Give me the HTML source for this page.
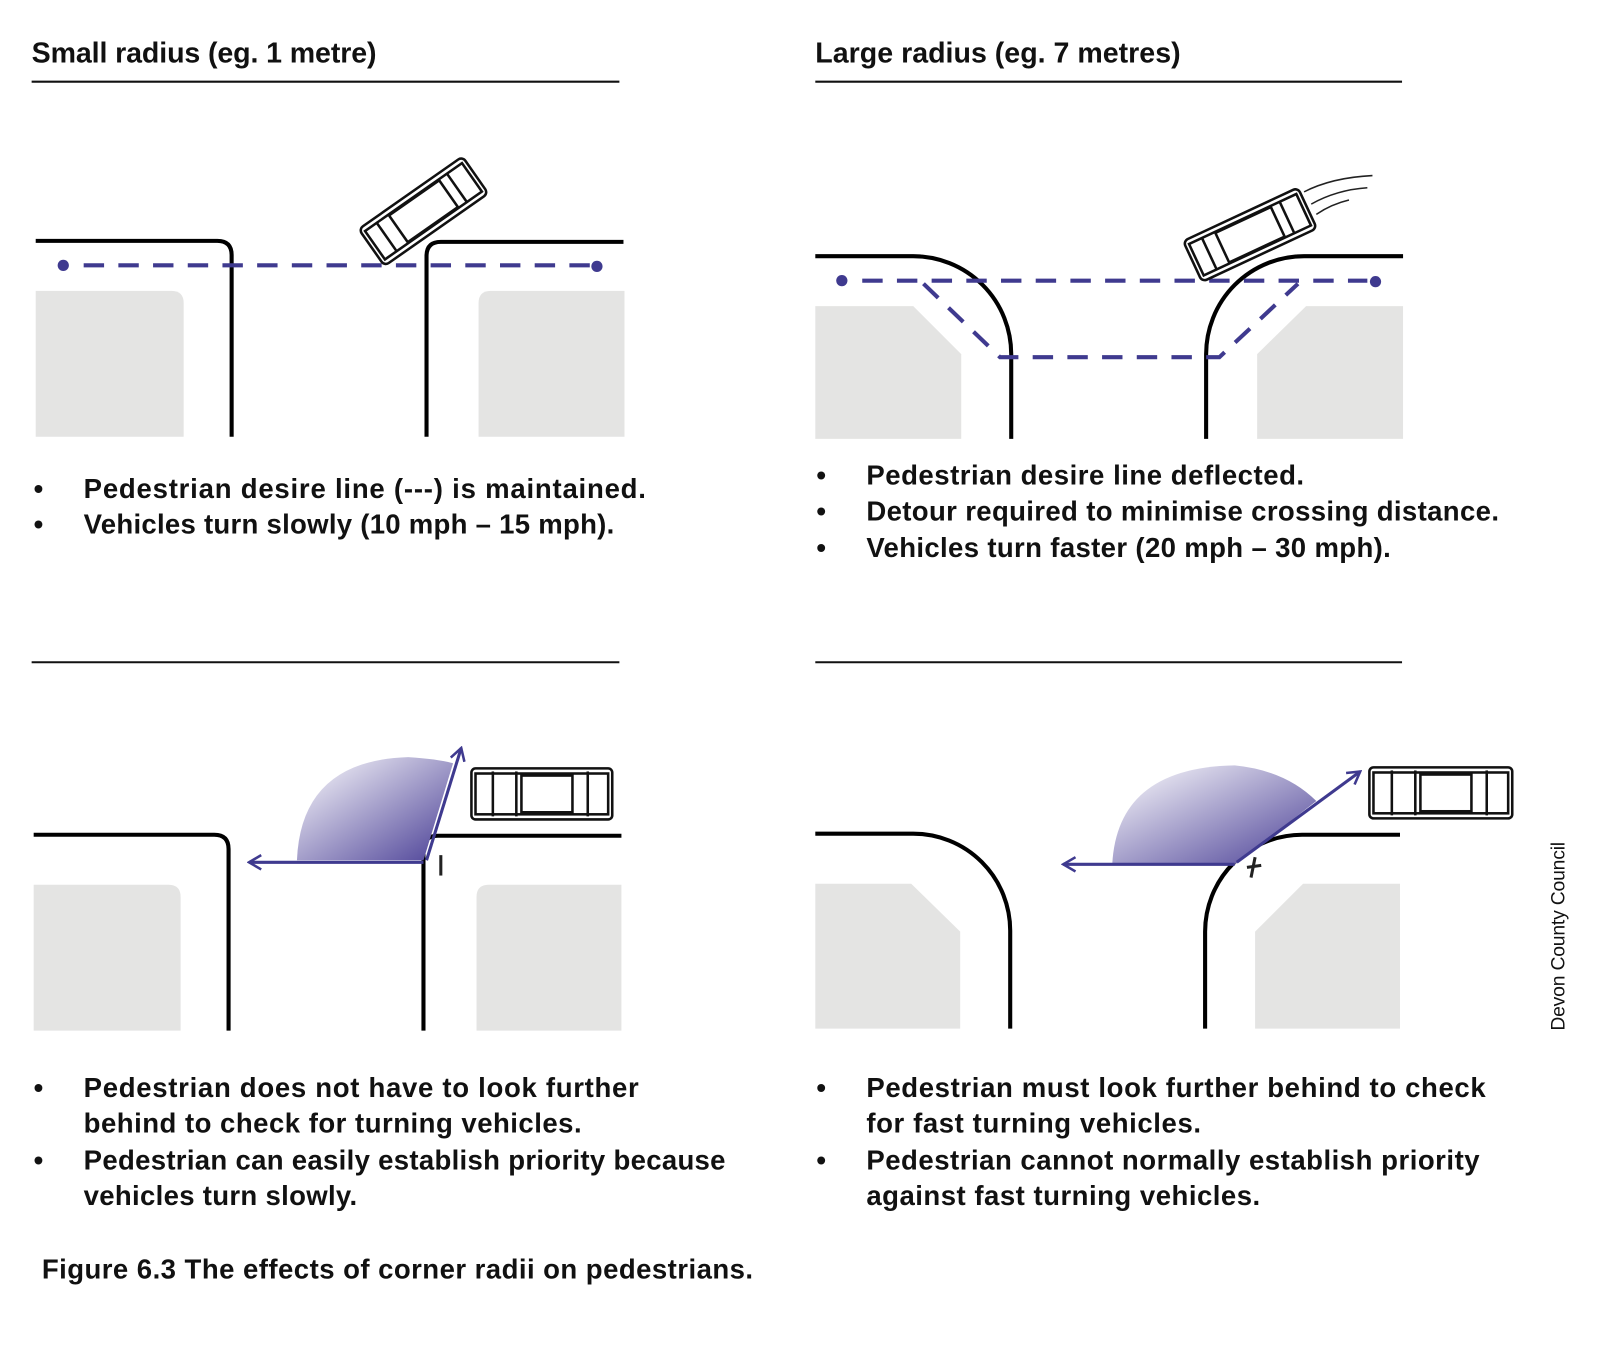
<!DOCTYPE html>
<html><head><meta charset="utf-8"><style>
html,body{margin:0;padding:0;background:#fff}
svg{display:block}
text{font-family:"Liberation Sans",sans-serif;fill:#111}
.t{font-size:28px;font-weight:bold}
.b{font-size:27px;font-weight:bold}
</style></head><body>
<svg width="1600" height="1346" viewBox="0 0 1568 1319" xmlns="http://www.w3.org/2000/svg">
<defs>
<linearGradient id="g1" x1="0" y1="0" x2="1" y2="1">
<stop offset="0" stop-color="#fff"/><stop offset="1" stop-color="#4a3f96"/></linearGradient>
<marker id="ar2" markerWidth="16" markerHeight="16" refX="14" refY="8" orient="auto" markerUnits="userSpaceOnUse">
<path d="M2,1 L14,8 L2,15" fill="none" stroke="#3f3a8f" stroke-width="2.5"/></marker>
</defs>
<g fill="none" stroke="#111" stroke-width="2">
<line x1="31" y1="80" x2="607" y2="80"/><line x1="799" y1="80" x2="1374" y2="80"/>
<line x1="31" y1="649" x2="607" y2="649"/><line x1="799" y1="649" x2="1374" y2="649"/>
</g>
<text class="t" x="31" y="61" textLength="338">Small radius (eg. 1 metre)</text>
<text class="t" x="799" y="61" textLength="358">Large radius (eg. 7 metres)</text>

<g fill="#e4e4e3">
<path d="M35,285 H168 Q180,285 180,297 V428 H35Z"/>
<path d="M612,285 H481 Q469,285 469,297 V428 H612Z"/>
<path d="M799,300 H895 L942,347 V430 H799Z"/>
<path d="M1375,300 H1280 L1232,347 V430 H1375Z"/>
<path d="M33,867 H165 Q177,867 177,879 V1010 H33Z"/>
<path d="M609,867 H479 Q467,867 467,879 V1010 H609Z"/>
<path d="M799,866 H893 L941,913 V1008 H799Z"/>
<path d="M1372,866 H1277 L1230,913 V1008 H1372Z"/>
</g>
<g fill="none" stroke="#000" stroke-width="4">
<path d="M35,236 H213 Q227,236 227,250 V428"/>
<path d="M418,428 V251 Q418,237 432,237 H611"/>
<path d="M799,251 H895 A96,96 0 0 1 991,347 V430"/>
<path d="M1182,430 V347 A96,96 0 0 1 1278,251 H1375"/>
<path d="M33,818 H210 Q224,818 224,832 V1010"/>
<path d="M415,1010 V833 Q415,819 429,819 H609"/>
<path d="M799,817 H895 A95,95 0 0 1 990,912 V1008"/>
<path d="M1181,1008 V913 A95,95 0 0 1 1276,818 H1372"/>
</g>
<g stroke="#3f3a8f" stroke-width="4" fill="none" stroke-dasharray="20,14">
<line x1="82" y1="260" x2="580" y2="260"/>
<line x1="845" y1="275" x2="1340" y2="275"/>
<path d="M905,278 L980,350 H1195 L1272,278"/>
</g>
<g fill="#3f3a8f"><circle cx="62" cy="260" r="5.5"/><circle cx="585" cy="261" r="5.5"/><circle cx="825" cy="275" r="5.5"/><circle cx="1348" cy="276" r="5.5"/></g>

<path d="M415,843 H291 Q295,745 400,742 Q430,744 444,748 Z" fill="url(#g1)"/>
<path d="M1210,847 H1090 Q1095,752 1210,750 Q1260,755 1290,785 Z" fill="url(#g1)"/>
<g stroke="#3f3a8f" stroke-width="3" fill="none">
<line x1="415" y1="845" x2="244" y2="845" marker-end="url(#ar2)"/>
<line x1="418" y1="843" x2="452" y2="733" marker-end="url(#ar2)"/>
<line x1="1210" y1="847" x2="1042" y2="847" marker-end="url(#ar2)"/>
<line x1="1212" y1="845" x2="1333" y2="756" marker-end="url(#ar2)"/>
</g>
<g stroke="#222" stroke-width="3"><line x1="432" y1="838" x2="432" y2="858"/><line x1="1230" y1="840" x2="1226" y2="860"/><line x1="1222" y1="850" x2="1236" y2="848"/></g>

<g transform="translate(415,207) rotate(-35)" fill="#fff" stroke="#111" stroke-width="2.5">
<rect x="-62" y="-22" width="124" height="44" rx="5"/><rect x="-58" y="-17" width="116" height="34"/>
<rect x="-30" y="-16" width="60" height="32"/><line x1="-44" y1="-18" x2="-44" y2="18"/><line x1="40" y1="-18" x2="40" y2="18"/></g>
<g transform="translate(1225,230) rotate(-25)" fill="#fff" stroke="#111" stroke-width="2.5">
<rect x="-62" y="-22" width="124" height="44" rx="5"/><rect x="-58" y="-17" width="116" height="34"/>
<rect x="-30" y="-16" width="60" height="32"/><line x1="-44" y1="-18" x2="-44" y2="18"/><line x1="40" y1="-18" x2="40" y2="18"/></g>
<g stroke="#222" stroke-width="1.5" fill="none"><path d="M1278,188 Q1305,174 1345,172"/><path d="M1285,200 Q1310,186 1340,184"/><path d="M1290,210 Q1305,200 1322,196"/></g>
<g transform="translate(531,778)" fill="#fff" stroke="#111" stroke-width="2.5">
<rect x="-69" y="-25" width="138" height="50" rx="4"/><rect x="-65" y="-20" width="130" height="40"/>
<rect x="-20" y="-18" width="50" height="36"/><line x1="-48" y1="-22" x2="-48" y2="22"/><line x1="-25" y1="-22" x2="-25" y2="22"/><line x1="45" y1="-22" x2="45" y2="22"/></g>
<g transform="translate(1412,777)" fill="#fff" stroke="#111" stroke-width="2.5">
<rect x="-70" y="-25" width="140" height="50" rx="4"/><rect x="-66" y="-20" width="132" height="40"/>
<rect x="-20" y="-18" width="50" height="36"/><line x1="-48" y1="-22" x2="-48" y2="22"/><line x1="-25" y1="-22" x2="-25" y2="22"/><line x1="45" y1="-22" x2="45" y2="22"/></g>

<g class="b">
<text class="b" x="33" y="488">•</text><text class="b" x="82" y="488" textLength="551">Pedestrian desire line (---) is maintained.</text>
<text class="b" x="33" y="523">•</text><text class="b" x="82" y="523" textLength="520">Vehicles turn slowly (10 mph – 15 mph).</text>
<text class="b" x="800" y="475">•</text><text class="b" x="849" y="475" textLength="429">Pedestrian desire line deflected.</text>
<text class="b" x="800" y="510">•</text><text class="b" x="849" y="510" textLength="620">Detour required to minimise crossing distance.</text>
<text class="b" x="800" y="546">•</text><text class="b" x="849" y="546" textLength="514">Vehicles turn faster (20 mph – 30 mph).</text>
<text class="b" x="33" y="1075">•</text><text class="b" x="82" y="1075" textLength="544">Pedestrian does not have to look further</text>
<text class="b" x="82" y="1110" textLength="488">behind to check for turning vehicles.</text>
<text class="b" x="33" y="1146">•</text><text class="b" x="82" y="1146" textLength="629">Pedestrian can easily establish priority because</text>
<text class="b" x="82" y="1181" textLength="268">vehicles turn slowly.</text>
<text class="b" x="800" y="1075">•</text><text class="b" x="849" y="1075" textLength="607">Pedestrian must look further behind to check</text>
<text class="b" x="849" y="1110" textLength="328">for fast turning vehicles.</text>
<text class="b" x="800" y="1146">•</text><text class="b" x="849" y="1146" textLength="601">Pedestrian cannot normally establish priority</text>
<text class="b" x="849" y="1181" textLength="386">against fast turning vehicles.</text>
<text class="b" x="41" y="1253" textLength="697">Figure 6.3 The effects of corner radii on pedestrians.</text>
</g>
<text x="1533" y="1010" font-size="19" transform="rotate(-90 1533 1010)" textLength="185">Devon County Council</text>
</svg>
</body></html>
